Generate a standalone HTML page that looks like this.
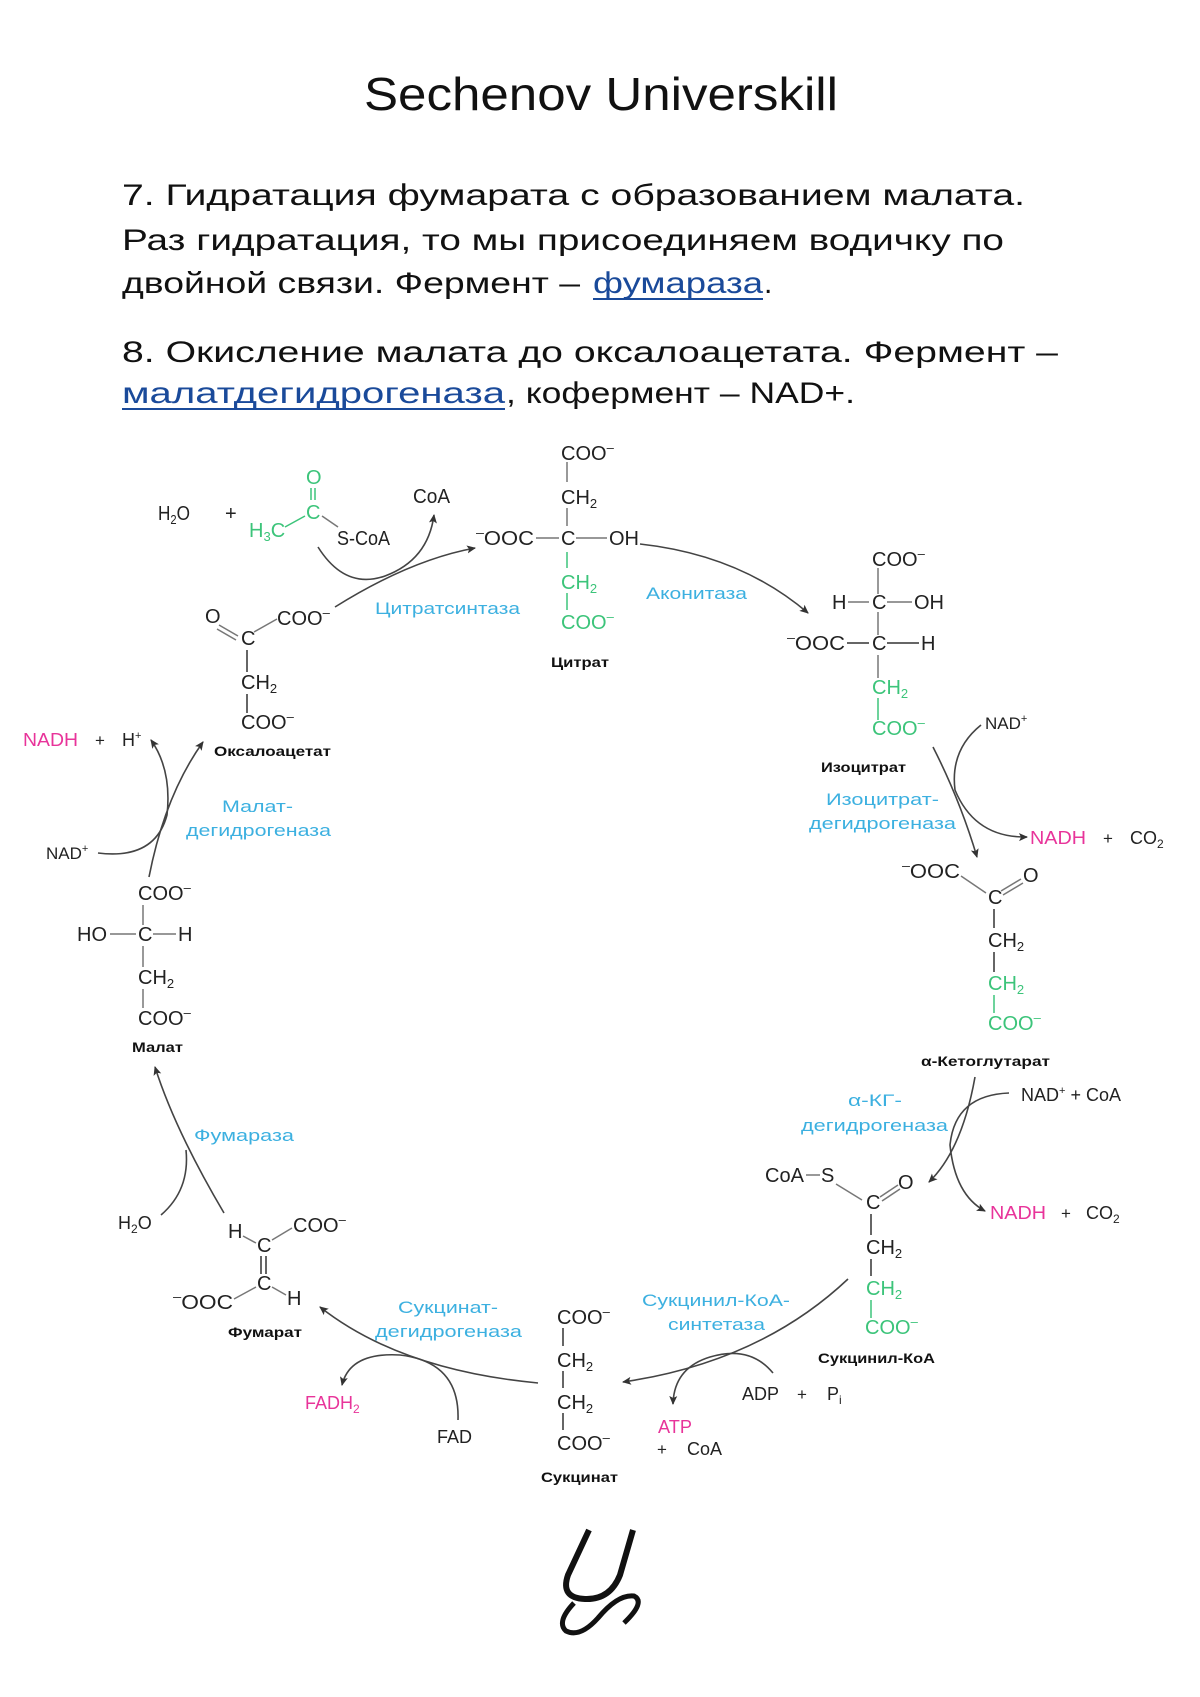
<!DOCTYPE html>
<html><head><meta charset="utf-8"><style>
html,body{margin:0;padding:0;background:#fff;}
svg{display:block;}
text{font-family:"Liberation Sans","DejaVu Sans",sans-serif;}
.s{font-size:20px;fill:#222;}
.g{font-size:20px;fill:#3cc47a;}
.n{font-size:13.5px;font-weight:bold;fill:#111;}
.e{font-size:17px;fill:#3cb0e0;}
.p{font-size:18px;fill:#e8349a;}
.t{font-size:30px;fill:#111;}
.b{stroke:#777;stroke-width:1.5;fill:none;}
.bg{stroke:#3cc47a;stroke-width:1.5;fill:none;}
.a{stroke:#444;stroke-width:1.6;fill:none;marker-end:url(#ah);}
.c{stroke:#444;stroke-width:1.6;fill:none;}
</style></head><body>
<svg width="1200" height="1697" viewBox="0 0 1200 1697" xmlns="http://www.w3.org/2000/svg">
<defs><marker id="ah" markerWidth="10" markerHeight="10" refX="8" refY="5" orient="auto" markerUnits="userSpaceOnUse"><path d="M0,1 L9,5 L0,9 L2,5 Z" fill="#333"/></marker></defs>

<text x="364" y="110" font-size="46" fill="#111" textLength="474" lengthAdjust="spacingAndGlyphs">Sechenov Universkill</text>

<text class="t" x="122" y="205" textLength="903" lengthAdjust="spacingAndGlyphs">7. Гидратация фумарата с образованием малата.</text>
<text class="t" x="122" y="250" textLength="882" lengthAdjust="spacingAndGlyphs">Раз гидратация, то мы присоединяем водичку по</text>
<text class="t" x="122" y="293" textLength="458" lengthAdjust="spacingAndGlyphs">двойной связи. Фермент –</text>
<text class="t" x="593" y="293" fill="#1a4a9a" style="fill:#1a4a9a" textLength="170" lengthAdjust="spacingAndGlyphs">фумараза</text>
<line x1="593" y1="299" x2="763" y2="299" stroke="#1a4a9a" stroke-width="2"/>
<text class="t" x="764" y="293">.</text>
<text class="t" x="122" y="362" textLength="936" lengthAdjust="spacingAndGlyphs">8. Окисление малата до оксалоацетата. Фермент –</text>
<text class="t" x="122" y="403" style="fill:#1a4a9a" textLength="383" lengthAdjust="spacingAndGlyphs">малатдегидрогеназа</text>
<line x1="122" y1="409" x2="505" y2="409" stroke="#1a4a9a" stroke-width="2"/>
<text class="t" x="506" y="403" textLength="349" lengthAdjust="spacingAndGlyphs">, кофермент – NAD+.</text>

<!-- Acetyl-CoA -->
<text class="s" x="158" y="520" textLength="32" lengthAdjust="spacingAndGlyphs">H<tspan font-size="13" dy="4">2</tspan><tspan dy="-4">O</tspan></text>
<text class="s" x="225" y="520">+</text>
<text class="g" x="306" y="484">O</text>
<line x1="311" y1="488" x2="311" y2="500" class="bg"/><line x1="315" y1="488" x2="315" y2="500" class="bg"/>
<text class="g" x="306" y="519">C</text>
<text class="g" x="249" y="537">H<tspan font-size="13" dy="4">3</tspan><tspan dy="-4">C</tspan></text>
<line x1="285" y1="527" x2="305" y2="516" class="bg"/>
<line x1="322" y1="516" x2="338" y2="527" class="b"/>
<text class="s" x="337" y="545" textLength="53" lengthAdjust="spacingAndGlyphs">S-CoA</text>
<text class="s" x="413" y="503" textLength="37" lengthAdjust="spacingAndGlyphs">CoA</text>

<!-- Citrate -->
<line x1="567" y1="462" x2="567" y2="482" class="b"/>
<line x1="567" y1="508" x2="567" y2="526" class="b"/>
<line x1="567" y1="552" x2="567" y2="568" class="bg"/>
<line x1="567" y1="593" x2="567" y2="610" class="bg"/>
<text class="s" x="561" y="460">COO<tspan font-size="13" dy="-8">–</tspan></text>
<text class="s" x="561" y="504">CH<tspan font-size="13" dy="4">2</tspan></text>
<text class="s" x="476" y="545" textLength="58" lengthAdjust="spacingAndGlyphs"><tspan font-size="13" dy="-8">–</tspan><tspan dy="8">OOC</tspan></text>
<line x1="536" y1="538" x2="559" y2="538" class="b"/>
<text class="s" x="561" y="545">C</text>
<line x1="576" y1="538" x2="607" y2="538" class="b"/>
<text class="s" x="609" y="545">OH</text>
<text class="g" x="561" y="589">CH<tspan font-size="13" dy="4">2</tspan></text>
<text class="g" x="561" y="629">COO<tspan font-size="13" dy="-8">–</tspan></text>
<text class="n" x="551" y="667" textLength="58" lengthAdjust="spacingAndGlyphs">Цитрат</text>
<text class="e" x="375" y="614" textLength="145" lengthAdjust="spacingAndGlyphs">Цитратсинтаза</text>
<text class="e" x="646" y="599" textLength="101" lengthAdjust="spacingAndGlyphs">Аконитаза</text>

<!-- Oxaloacetate -->
<text class="s" x="205" y="623">O</text>
<line x1="219" y1="625" x2="238" y2="636" class="b"/><line x1="217" y1="629" x2="236" y2="640" class="b"/>
<text class="s" x="241" y="645">C</text>
<line x1="254" y1="632" x2="277" y2="619" class="b"/>
<text class="s" x="277" y="625">COO<tspan font-size="13" dy="-8">–</tspan></text>
<line x1="247" y1="650" x2="247" y2="672" class="b" style="stroke:#333"/>
<text class="s" x="241" y="689">CH<tspan font-size="13" dy="4">2</tspan></text>
<line x1="247" y1="694" x2="247" y2="713" class="b" style="stroke:#333"/>
<text class="s" x="241" y="729">COO<tspan font-size="13" dy="-8">–</tspan></text>
<text class="n" x="214" y="756" textLength="117" lengthAdjust="spacingAndGlyphs">Оксалоацетат</text>

<!-- Isocitrate -->
<line x1="878" y1="568" x2="878" y2="594" class="b"/>
<line x1="878" y1="612" x2="878" y2="635" class="b"/>
<line x1="878" y1="655" x2="878" y2="678" class="b"/>
<line x1="878" y1="698" x2="878" y2="720" class="bg"/>
<text class="s" x="872" y="566">COO<tspan font-size="13" dy="-8">–</tspan></text>
<text class="s" x="832" y="609">H</text>
<line x1="848" y1="602" x2="869" y2="602" class="b"/>
<text class="s" x="872" y="609">C</text>
<line x1="887" y1="602" x2="912" y2="602" class="b"/>
<text class="s" x="914" y="609">OH</text>
<text class="s" x="787" y="650" textLength="58" lengthAdjust="spacingAndGlyphs"><tspan font-size="13" dy="-8">–</tspan><tspan dy="8">OOC</tspan></text>
<line x1="847" y1="643" x2="869" y2="643" class="b" style="stroke:#333"/>
<text class="s" x="872" y="650">C</text>
<line x1="887" y1="643" x2="919" y2="643" class="b" style="stroke:#333"/>
<text class="s" x="921" y="650">H</text>
<text class="g" x="872" y="694">CH<tspan font-size="13" dy="4">2</tspan></text>
<text class="g" x="872" y="735">COO<tspan font-size="13" dy="-8">–</tspan></text>
<text class="n" x="821" y="772" textLength="85" lengthAdjust="spacingAndGlyphs">Изоцитрат</text>
<text class="e" x="826" y="805" textLength="113" lengthAdjust="spacingAndGlyphs">Изоцитрат-</text>
<text class="e" x="809" y="829" textLength="147" lengthAdjust="spacingAndGlyphs">дегидрогеназа</text>
<text class="s" x="985" y="729" font-size="17" style="font-size:17px">NAD<tspan font-size="11" dy="-7">+</tspan></text>
<text class="p" x="1030" y="844" textLength="56" lengthAdjust="spacingAndGlyphs">NADH</text>
<text class="s" x="1103" y="844" style="font-size:17px">+</text>
<text class="s" x="1130" y="844" style="font-size:18px">CO<tspan font-size="12" dy="4">2</tspan></text>

<!-- alpha-KG -->
<text class="s" x="902" y="878" textLength="58" lengthAdjust="spacingAndGlyphs"><tspan font-size="13" dy="-8">–</tspan><tspan dy="8">OOC</tspan></text>
<line x1="961" y1="876" x2="986" y2="893" class="b"/>
<text class="s" x="988" y="904">C</text>
<line x1="1001" y1="891" x2="1021" y2="879" class="b"/><line x1="1003" y1="895" x2="1023" y2="883" class="b"/>
<text class="s" x="1023" y="882">O</text>
<line x1="994" y1="909" x2="994" y2="928" class="b" style="stroke:#333"/>
<text class="s" x="988" y="947">CH<tspan font-size="13" dy="4">2</tspan></text>
<line x1="994" y1="952" x2="994" y2="972" class="b" style="stroke:#333"/>
<text class="g" x="988" y="990">CH<tspan font-size="13" dy="4">2</tspan></text>
<line x1="994" y1="995" x2="994" y2="1013" class="bg"/>
<text class="g" x="988" y="1030">COO<tspan font-size="13" dy="-8">–</tspan></text>
<text class="n" x="921" y="1066" textLength="129" lengthAdjust="spacingAndGlyphs">α-Кетоглутарат</text>
<text class="e" x="848" y="1106" textLength="54" lengthAdjust="spacingAndGlyphs">α-КГ-</text>
<text class="e" x="801" y="1131" textLength="147" lengthAdjust="spacingAndGlyphs">дегидрогеназа</text>
<text class="s" x="1021" y="1101" style="font-size:18px">NAD<tspan font-size="11" dy="-7">+</tspan><tspan dy="7">  +  CoA</tspan></text>
<text class="p" x="990" y="1219" textLength="56" lengthAdjust="spacingAndGlyphs">NADH</text>
<text class="s" x="1061" y="1219" style="font-size:17px">+</text>
<text class="s" x="1086" y="1219" style="font-size:18px">CO<tspan font-size="12" dy="4">2</tspan></text>

<!-- Succinyl-CoA -->
<text class="s" x="765" y="1182">CoA</text>
<line x1="806" y1="1175" x2="820" y2="1175" class="b"/>
<text class="s" x="821" y="1182">S</text>
<line x1="836" y1="1184" x2="862" y2="1200" class="b"/>
<text class="s" x="866" y="1209">C</text>
<line x1="880" y1="1197" x2="898" y2="1185" class="b"/><line x1="882" y1="1201" x2="900" y2="1189" class="b"/>
<text class="s" x="898" y="1189">O</text>
<line x1="871" y1="1214" x2="871" y2="1235" class="b" style="stroke:#333"/>
<text class="s" x="866" y="1254">CH<tspan font-size="13" dy="4">2</tspan></text>
<line x1="871" y1="1259" x2="871" y2="1276" class="b" style="stroke:#333"/>
<text class="g" x="866" y="1295">CH<tspan font-size="13" dy="4">2</tspan></text>
<line x1="871" y1="1300" x2="871" y2="1318" class="bg"/>
<text class="g" x="865" y="1334">COO<tspan font-size="13" dy="-8">–</tspan></text>
<text class="n" x="818" y="1363" textLength="117" lengthAdjust="spacingAndGlyphs">Сукцинил-КоА</text>
<text class="e" x="642" y="1306" textLength="148" lengthAdjust="spacingAndGlyphs">Сукцинил-КоА-</text>
<text class="e" x="668" y="1330" textLength="97" lengthAdjust="spacingAndGlyphs">синтетаза</text>
<text class="s" x="742" y="1400" style="font-size:18px">ADP</text>
<text class="s" x="797" y="1400" style="font-size:17px">+</text>
<text class="s" x="827" y="1400" style="font-size:18px">P<tspan font-size="12" dy="4">i</tspan></text>
<text class="p" x="658" y="1433" textLength="34" lengthAdjust="spacingAndGlyphs">ATP</text>
<text class="s" x="657" y="1455" style="font-size:17px">+</text>
<text class="s" x="687" y="1455" style="font-size:18px">CoA</text>

<!-- Succinate -->
<line x1="563" y1="1328" x2="563" y2="1346" class="b" style="stroke:#333"/>
<line x1="563" y1="1371" x2="563" y2="1388" class="b" style="stroke:#333"/>
<line x1="563" y1="1413" x2="563" y2="1430" class="b" style="stroke:#333"/>
<text class="s" x="557" y="1324">COO<tspan font-size="13" dy="-8">–</tspan></text>
<text class="s" x="557" y="1367">CH<tspan font-size="13" dy="4">2</tspan></text>
<text class="s" x="557" y="1409">CH<tspan font-size="13" dy="4">2</tspan></text>
<text class="s" x="557" y="1450">COO<tspan font-size="13" dy="-8">–</tspan></text>
<text class="n" x="541" y="1482" textLength="77" lengthAdjust="spacingAndGlyphs">Сукцинат</text>
<text class="e" x="398" y="1313" textLength="100" lengthAdjust="spacingAndGlyphs">Сукцинат-</text>
<text class="e" x="375" y="1337" textLength="147" lengthAdjust="spacingAndGlyphs">дегидрогеназа</text>
<text class="p" x="305" y="1409">FADH<tspan font-size="12" dy="4">2</tspan></text>
<text class="s" x="437" y="1443" style="font-size:18px">FAD</text>

<!-- Fumarate -->
<text class="s" x="228" y="1238">H</text>
<line x1="243" y1="1236" x2="256" y2="1243" class="b"/>
<text class="s" x="257" y="1252">C</text>
<line x1="272" y1="1240" x2="292" y2="1228" class="b"/>
<text class="s" x="293" y="1232">COO<tspan font-size="13" dy="-8">–</tspan></text>
<line x1="261" y1="1256" x2="261" y2="1274" class="b" style="stroke:#333"/><line x1="266" y1="1256" x2="266" y2="1274" class="b" style="stroke:#333"/>
<text class="s" x="257" y="1290">C</text>
<line x1="272" y1="1287" x2="286" y2="1295" class="b"/>
<text class="s" x="287" y="1305">H</text>
<text class="s" x="173" y="1309" textLength="60" lengthAdjust="spacingAndGlyphs"><tspan font-size="13" dy="-8">–</tspan><tspan dy="8">OOC</tspan></text>
<line x1="234" y1="1299" x2="256" y2="1287" class="b"/>
<text class="n" x="228" y="1337" textLength="74" lengthAdjust="spacingAndGlyphs">Фумарат</text>
<text class="s" x="118" y="1229" style="font-size:18px">H<tspan font-size="12" dy="4">2</tspan><tspan dy="-4">O</tspan></text>
<text class="e" x="194" y="1141" textLength="100" lengthAdjust="spacingAndGlyphs">Фумараза</text>

<!-- Malate -->
<line x1="143" y1="905" x2="143" y2="925" class="b"/>
<line x1="143" y1="946" x2="143" y2="967" class="b"/>
<line x1="143" y1="989" x2="143" y2="1008" class="b"/>
<text class="s" x="138" y="900">COO<tspan font-size="13" dy="-8">–</tspan></text>
<text class="s" x="77" y="941">HO</text>
<line x1="110" y1="934" x2="136" y2="934" class="b"/>
<text class="s" x="138" y="941">C</text>
<line x1="153" y1="934" x2="176" y2="934" class="b"/>
<text class="s" x="178" y="941">H</text>
<text class="s" x="138" y="984">CH<tspan font-size="13" dy="4">2</tspan></text>
<text class="s" x="138" y="1025">COO<tspan font-size="13" dy="-8">–</tspan></text>
<text class="n" x="132" y="1052" textLength="51" lengthAdjust="spacingAndGlyphs">Малат</text>
<text class="s" x="46" y="859" style="font-size:17px">NAD<tspan font-size="11" dy="-7">+</tspan></text>
<text class="p" x="23" y="746" textLength="55" lengthAdjust="spacingAndGlyphs">NADH</text>
<text class="s" x="95" y="746" style="font-size:17px">+</text>
<text class="s" x="122" y="746" style="font-size:18px">H<tspan font-size="11" dy="-7">+</tspan></text>
<text class="e" x="222" y="812" textLength="71" lengthAdjust="spacingAndGlyphs">Малат-</text>
<text class="e" x="186" y="836" textLength="145" lengthAdjust="spacingAndGlyphs">дегидрогеназа</text>

<!-- Arrows -->
<path class="a" d="M335,607 Q410,560 475,548"/>
<path class="a" d="M318,547 Q345,590 385,576 Q428,560 434,515"/>
<path class="a" d="M640,544 Q740,555 808,613"/>
<path class="a" d="M933,747 Q960,800 977,857"/>
<path class="a" d="M981,725 Q950,750 955,790 Q975,838 1027,837"/>
<path class="a" d="M975,1077 Q962,1150 929,1182"/>
<path class="a" d="M1009,1093 Q955,1095 950,1145 Q955,1195 985,1211"/>
<path class="a" d="M848,1279 Q760,1362 623,1382"/>
<path class="a" d="M773,1373 Q750,1345 710,1357 Q674,1368 673,1404"/>
<path class="a" d="M538,1383 Q400,1370 320,1307"/>
<path class="a" d="M458,1420 Q460,1362 400,1355 Q350,1352 342,1385"/>
<path class="a" d="M224,1213 Q175,1130 155,1067"/>
<path class="c" d="M161,1215 Q190,1190 186,1150"/>
<path class="a" d="M149,877 Q165,795 203,742"/>
<path class="a" d="M98,853 Q155,860 167,815 Q172,770 151,740"/>

<!-- Logo -->
<path d="M589,1530 L568,1575 Q560,1598 585,1599 Q610,1600 620,1575 L633,1530" fill="none" stroke="#111" stroke-width="6" stroke-linecap="butt"/>
<path d="M574,1603 Q556,1622 566,1631 Q580,1638 598,1618 Q618,1594 634,1596 Q646,1602 624,1623" fill="none" stroke="#111" stroke-width="5"/>
</svg>
</body></html>
